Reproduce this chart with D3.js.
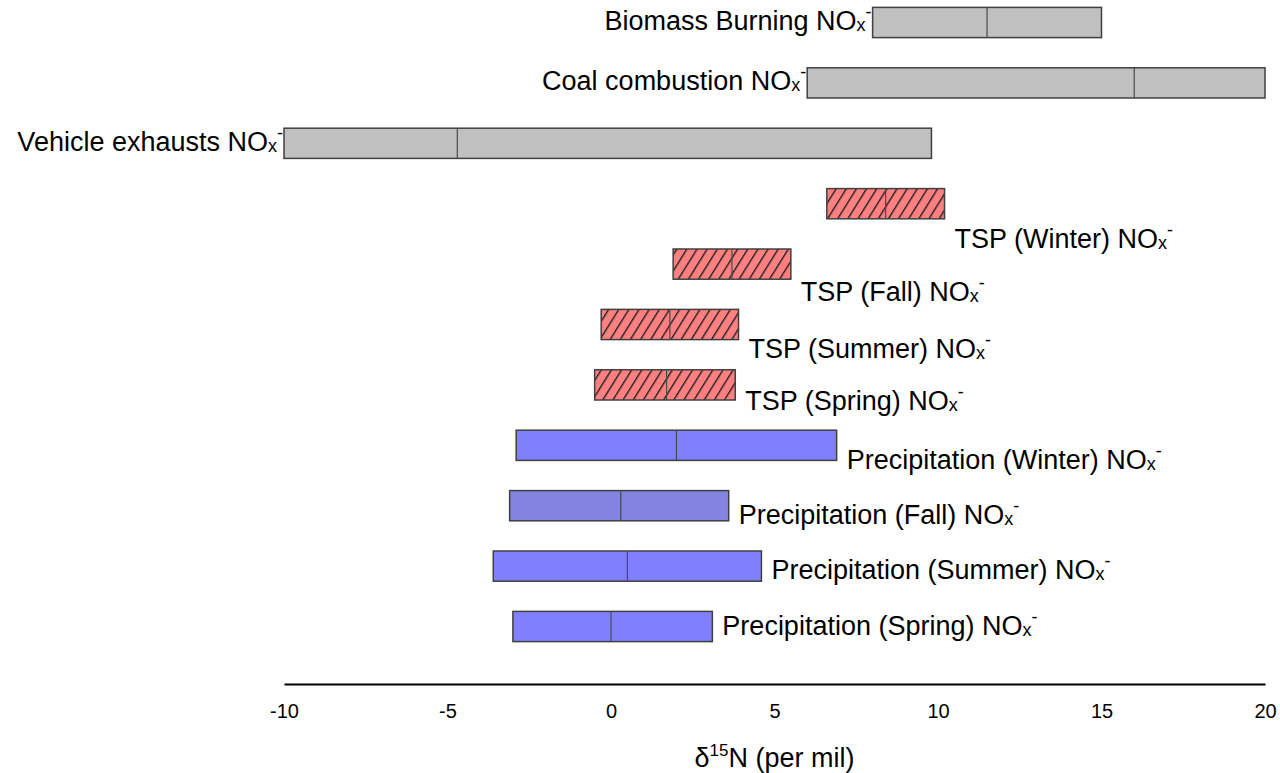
<!DOCTYPE html>
<html>
<head>
<meta charset="utf-8">
<script src="https://d3js.org/d3.v7.min.js"></script>
<style>
  html, body { margin: 0; padding: 0; background: #fff; }
  svg { display: block; font-family: "Liberation Sans", Arial, sans-serif; }
</style>
</head>
<body>
<svg id="chart" width="1280" height="773"></svg>
<script>
// δ15N ranges (min, median, max) of nitrate sources, TSP and precipitation
const categories = [
  "Biomass Burning", "Coal combustion", "Vehicle exhausts",
  "TSP (Winter)", "TSP (Fall)", "TSP (Summer)", "TSP (Spring)",
  "Precipitation (Winter)", "Precipitation (Fall)", "Precipitation (Summer)", "Precipitation (Spring)"
];
const groups = [
  "source", "source", "source",
  "tsp", "tsp", "tsp", "tsp",
  "precip", "precip", "precip", "precip"
];
const lowValues    = [8.0, 6.0, -10.0, 6.6, 1.9, -0.3, -0.5, -2.9, -3.1, -3.6, -3.0];
const medianValues = [11.5, 16.0, -4.7, 8.4, 3.7, 1.8, 1.7, 2.0, 0.3, 0.5, 0.0];
const highValues   = [15.0, 20.0, 9.8, 10.2, 5.5, 3.9, 3.8, 6.9, 3.6, 4.6, 3.1];
const xTicks = [-10, -5, 0, 5, 10, 15, 20];

// styling
const fills = ["#c0c0c0", "#c0c0c0", "#c0c0c0",
  "#ff8080", "#ff8080", "#ff8080", "#ff8080",
  "#8080ff", "#8383e0", "#8080ff", "#8080ff"];
// vertical shift of each right-hand label below its bar centre (px)
const labelDrop = [0, 0, 0, 44, 37, 33, 25, 23.5, 18.5, 13, 8];

const svg = d3.select("#chart");
const fontSize = 27;

const x = d3.scaleLinear().domain([-10, 20]).range([284, 1265]);
const y = d3.scaleBand().domain(categories).range([-7.7, 656.7])
  .paddingInner(0.5).paddingOuter(0.25);

// hatch pattern for TSP bars
const defs = svg.append("defs");
const pat = defs.append("pattern")
  .attr("id", "hatch")
  .attr("patternUnits", "userSpaceOnUse")
  .attr("width", 8.6).attr("height", 10)
  .attr("patternTransform", "rotate(32)");
pat.append("rect").attr("width", 8.6).attr("height", 10).attr("fill", "#ff8080");
pat.append("line").attr("x1", 0.7).attr("y1", 0).attr("x2", 0.7).attr("y2", 10)
  .attr("stroke", "#202020").attr("stroke-width", 1.4);

const rows = categories.map((c, i) => ({
  name: c, group: groups[i], lo: lowValues[i], med: medianValues[i], hi: highValues[i],
  fill: fills[i], drop: labelDrop[i]
}));

const g = svg.append("g");

g.selectAll("rect.bar").data(rows).join("rect")
  .attr("class", "bar")
  .attr("x", d => x(d.lo))
  .attr("y", d => y(d.name))
  .attr("width", d => x(d.hi) - x(d.lo))
  .attr("height", y.bandwidth())
  .attr("fill", d => d.group === "tsp" ? "url(#hatch)" : d.fill)
  .attr("stroke", "#404040")
  .attr("stroke-width", 1.5);

g.selectAll("line.median").data(rows).join("line")
  .attr("class", "median")
  .attr("x1", d => x(d.med)).attr("x2", d => x(d.med))
  .attr("y1", d => y(d.name)).attr("y2", d => y(d.name) + y.bandwidth())
  .attr("stroke", "#4a4a4a")
  .attr("stroke-width", 1.2);

// labels: "<name> NOx⁻" with subscript x and superscript minus
const labels = g.selectAll("text.label").data(rows).join("text")
  .attr("class", "label")
  .attr("font-size", fontSize)
  .attr("fill", "#000")
  .attr("text-anchor", d => d.group === "source" ? "end" : "start")
  .attr("x", d => d.group === "source" ? x(d.lo) - 1 : x(d.hi) + 10)
  .attr("y", d => y(d.name) + y.bandwidth() / 2 + (d.group === "source" ? 7.5 : d.drop));
labels.append("tspan").text(d => d.name + " NO");
labels.append("tspan").attr("font-size", 18).attr("dy", 1).text("x");
labels.append("tspan").attr("font-size", 18).attr("dy", -13).text("-");

// x axis
const axisY = 684;
const axis = svg.append("g")
  .attr("transform", `translate(0,${axisY})`)
  .call(d3.axisBottom(x).tickValues(xTicks).tickSize(0).tickPadding(0).tickFormat(d => String(d)));
axis.select(".domain").attr("stroke", "#000").attr("stroke-width", 2);
axis.selectAll(".tick text")
  .attr("font-size", 20)
  .attr("font-family", "'Liberation Sans', Arial, sans-serif")
  .attr("fill", "#000")
  .attr("dy", null)
  .attr("y", 34);

// axis title
const title = svg.append("text")
  .attr("x", x(5)).attr("y", 767)
  .attr("text-anchor", "middle")
  .attr("font-size", fontSize)
  .attr("fill", "#000");
title.append("tspan").text("δ");
title.append("tspan").attr("font-size", 17).attr("dy", -11).text("15");
title.append("tspan").attr("dy", 11).text("N (per mil)");
</script>
</body>
</html>
